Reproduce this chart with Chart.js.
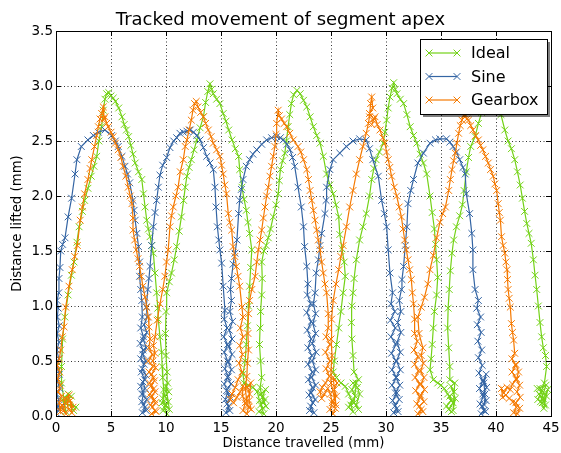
<!DOCTYPE html>
<html>
<head>
<meta charset="utf-8">
<script src="https://cdn.jsdelivr.net/npm/chart.js@4"></script>
<style>
html,body{margin:0;padding:0;background:#fff;}
#wrap{width:561px;height:453px;position:relative;}
</style>
</head>
<body>
<div id="wrap"><canvas id="c" width="561" height="453"></canvas></div>
<script>
const seriesNames = ['Ideal', 'Sine', 'Gearbox'];
const seriesColors = ['#73d216', '#3465a4', '#f57900'];
const xTicks = [0, 5, 10, 15, 20, 25, 30, 35, 40, 45];
const yTicks = [0.0, 0.5, 1.0, 1.5, 2.0, 2.5, 3.0, 3.5];

const idealPts = [
[1.6,0.05],[1.2,0.1],[1.8,0.08],[1.0,0.15],[1.4,0.18],[0.8,0.12],[1.1,0.2],[0.6,0.15],[0.9,0.04],[0.5,0.3],
[0.5,0.45],[0.6,0.7],[0.8,0.9],[1.1,1.1],[1.4,1.28],[1.64,1.4],[1.9,1.58],[2.1,1.72],[2.4,1.86],[2.6,1.96],
[2.9,2.07],[3.2,2.18],[3.45,2.27],[3.7,2.36],[3.9,2.5],[4.15,2.63],[4.3,2.78],[4.45,2.88],[4.6,2.93],[4.8,2.94],
[5.0,2.91],[5.2,2.89],[5.4,2.86],[5.7,2.8],[6.0,2.72],[6.2,2.65],[6.4,2.6],[6.6,2.54],[6.8,2.46],[7.0,2.38],
[7.2,2.3],[7.5,2.22],[7.8,2.15],[7.95,2.02],[8.1,1.9],[8.25,1.78],[8.4,1.7],[8.55,1.63],[8.7,1.55],[8.85,1.48],
[9.0,1.3],[9.15,1.12],[9.25,0.98],[9.3,0.88],[9.45,0.72],[9.6,0.58],[9.65,0.45],[9.7,0.35],[9.8,0.24],
[9.7,0.16],[10.0,0.1],[9.75,0.05],[10.1,0.02],[9.85,0.08],[10.2,0.13],[9.9,0.18],[10.25,0.22],[10.0,0.27],
[10.3,0.06],[9.65,0.12],[10.15,0.3],
[10.1,0.4],[10.0,0.55],[9.95,0.75],[10.0,0.95],[10.06,1.12],[10.3,1.22],[10.5,1.3],[10.75,1.42],[10.97,1.54],
[11.2,1.68],[11.4,1.81],[11.6,1.96],[11.75,2.08],[11.9,2.18],[12.1,2.26],[12.3,2.33],[12.55,2.42],[12.8,2.51],
[13.1,2.62],[13.4,2.72],[13.6,2.85],[13.8,2.95],[14.0,3.02],[14.15,2.97],[14.3,2.93],[14.6,2.88],[14.9,2.84],
[15.2,2.75],[15.45,2.68],[15.7,2.6],[16.0,2.51],[16.3,2.43],[16.6,2.36],[16.7,2.24],[16.9,2.08],[17.1,1.97],
[17.3,1.87],[17.45,1.76],[17.6,1.66],[17.8,1.51],[17.7,1.35],[17.6,1.18],[17.5,1.0],[17.4,0.82],[17.3,0.65],
[17.2,0.5],[17.0,0.38],[17.1,0.3],[17.5,0.28],[17.9,0.26],[18.3,0.22],
[18.5,0.14],[18.8,0.07],[18.45,0.04],[18.9,0.02],[18.6,0.1],[19.0,0.15],[18.65,0.2],[19.05,0.24],[18.75,0.17],
[19.1,0.09],[18.85,0.12],[18.55,0.26],
[18.7,0.35],[18.6,0.5],[18.5,0.65],[18.55,0.8],[18.6,0.95],[18.7,1.1],[18.75,1.25],[18.7,1.4],[18.9,1.5],
[19.1,1.55],[19.3,1.62],[19.5,1.7],[19.75,1.81],[20.0,1.92],[20.2,2.02],[20.3,2.14],[20.4,2.24],[20.6,2.32],
[20.8,2.39],[20.95,2.5],[21.1,2.63],[21.25,2.74],[21.4,2.84],[21.6,2.92],[21.9,2.96],[22.2,2.93],[22.5,2.87],
[22.8,2.81],[23.1,2.72],[23.4,2.63],[23.7,2.55],[24.0,2.48],[24.3,2.36],[24.6,2.2],[24.9,2.1],[25.2,2.02],
[25.45,1.92],[25.7,1.81],[25.8,1.65],[26.0,1.52],[26.2,1.4],[26.3,1.27],[26.1,1.12],[25.9,0.95],[25.7,0.8],
[25.5,0.65],[25.3,0.5],[25.2,0.4],[25.5,0.35],[25.9,0.3],[26.3,0.27],
[26.6,0.2],[26.9,0.14],[26.6,0.08],[27.0,0.04],[26.8,0.1],[27.2,0.18],[26.9,0.24],[27.3,0.3],[27.1,0.12],
[27.5,0.06],[27.3,0.1],[27.6,0.2],[27.4,0.26],[27.0,0.3],[27.5,0.33],
[27.1,0.4],[27.0,0.55],[26.9,0.7],[26.85,0.85],[26.9,1.0],[27.0,1.12],[27.1,1.25],[27.3,1.42],[27.6,1.6],
[27.9,1.72],[28.2,1.84],[28.5,2.0],[28.7,2.15],[28.9,2.25],[29.1,2.33],[29.4,2.4],[29.75,2.48],[29.9,2.58],
[30.06,2.69],[30.2,2.8],[30.36,2.9],[30.55,2.98],[30.7,3.03],[30.85,2.97],[31.0,2.93],[31.3,2.88],[31.6,2.84],
[31.9,2.74],[32.2,2.63],[32.5,2.55],[32.8,2.48],[33.1,2.38],[33.4,2.3],[33.7,2.2],[34.0,2.0],[34.2,1.85],
[34.4,1.7],[34.5,1.56],[34.6,1.42],[34.7,1.26],[34.6,1.1],[34.4,0.95],[34.3,0.8],[34.2,0.65],[34.1,0.52],
[34.0,0.42],[34.3,0.33],[34.7,0.3],[35.0,0.28],[35.3,0.25],
[35.6,0.2],[35.9,0.14],[35.5,0.09],[35.95,0.04],[35.7,0.06],[36.1,0.12],[35.8,0.18],[36.2,0.22],[35.9,0.27],
[36.3,0.16],[36.1,0.05],[36.25,0.3],[35.8,0.33],
[35.8,0.45],[35.7,0.62],[35.6,0.8],[35.65,0.98],[35.75,1.15],[35.85,1.32],[36.0,1.48],[36.15,1.6],[36.4,1.72],
[36.7,1.82],[36.95,1.92],[37.1,2.05],[37.3,2.22],[37.5,2.35],[37.7,2.45],[38.1,2.54],[38.4,2.66],[38.7,2.76],
[39.0,2.88],[39.4,2.98],[39.8,2.97],[40.2,2.85],[40.45,2.74],[40.8,2.6],[41.1,2.5],[41.4,2.43],[41.7,2.33],
[41.95,2.22],[42.2,2.1],[42.4,1.98],[42.6,1.86],[42.8,1.75],[43.0,1.66],[43.2,1.57],[43.4,1.42],[43.55,1.28],
[43.7,1.15],[43.85,1.0],[44.0,0.85],[44.15,0.72],[44.3,0.62],[44.5,0.55],[44.6,0.45],
[44.4,0.3],[44.1,0.22],[43.8,0.15],[44.2,0.12],[44.6,0.18],[44.0,0.25],[44.5,0.1],[43.9,0.2],[44.3,0.16],
[44.7,0.24],[44.35,0.07],[44.05,0.13],[44.55,0.28],[43.75,0.25]
];

const sinePts = [
[0.3,0.05],[0.1,0.1],[0.45,0.08],[0.0,0.03],[0.25,0.15],[0.05,0.2],[0.35,0.25],[0.1,0.32],[0.3,0.38],
[0.05,0.45],[0.25,0.52],[0.08,0.6],[0.28,0.67],[0.1,0.75],[0.3,0.82],[0.12,0.9],[0.2,0.98],[0.1,1.05],
[0.25,1.12],[0.27,1.25],[0.36,1.35],[0.43,1.5],[0.6,1.56],[0.82,1.62],[1.1,1.81],[1.42,1.98],
[1.73,2.2],[1.9,2.33],[2.3,2.45],[2.9,2.51],[3.4,2.55],[3.85,2.58],[4.45,2.6],[5.06,2.55],[5.4,2.5],[5.66,2.45],
[6.0,2.36],[6.27,2.27],[6.5,2.2],[6.7,2.12],[7.0,1.96],[7.1,1.87],[7.2,1.78],[7.35,1.66],[7.5,1.54],[7.6,1.4],
[7.6,1.27],[7.7,1.15],[7.8,1.05],[7.85,0.9],
[7.7,0.8],[7.95,0.72],[7.65,0.66],[7.9,0.6],[7.7,0.52],[8.0,0.47],[7.75,0.4],[8.05,0.33],[7.7,0.27],
[7.95,0.2],[7.8,0.13],[8.1,0.08],[7.85,0.03],[8.2,0.05],[7.95,0.1],[8.25,0.15],[7.8,0.2],[8.1,0.25],
[7.9,0.31],[8.2,0.37],[7.85,0.43],[8.15,0.5],[7.9,0.56],[8.2,0.62],[7.95,0.69],[8.25,0.76],[8.0,0.83],[8.3,0.9],
[8.2,0.99],[8.35,1.15],[8.45,1.25],[8.55,1.36],[8.7,1.55],[8.85,1.72],[9.0,1.85],[9.15,1.96],[9.3,2.08],
[9.45,2.19],[9.7,2.28],[10.06,2.35],[10.36,2.44],[10.7,2.5],[10.97,2.53],[11.27,2.57],[11.57,2.58],[11.9,2.59],
[12.2,2.6],[12.5,2.58],[12.8,2.55],[13.1,2.51],[13.4,2.44],[13.7,2.36],[14.0,2.3],[14.3,2.24],[14.45,2.08],
[14.55,1.9],[14.67,1.72],[14.8,1.6],[14.9,1.51],[15.06,1.39],[15.2,1.18],[15.36,0.96],
[15.3,0.88],[15.55,0.8],[15.25,0.72],[15.6,0.65],[15.3,0.58],[15.6,0.5],[15.35,0.43],[15.65,0.36],[15.3,0.29],
[15.6,0.22],[15.4,0.15],[15.7,0.09],[15.45,0.03],[15.8,0.05],[15.55,0.11],[15.85,0.17],[15.5,0.23],[15.9,0.29],
[15.6,0.35],[15.95,0.42],[15.65,0.49],[16.0,0.56],[15.7,0.63],[16.0,0.7],[15.75,0.78],[16.05,0.86],[15.8,0.95],
[15.95,1.05],[15.85,1.15],[15.95,1.25],
[16.1,1.38],[16.27,1.48],[16.45,1.6],[16.6,1.84],[16.7,1.96],[16.85,2.06],[17.0,2.15],
[17.3,2.27],[17.6,2.33],[17.9,2.38],[18.25,2.42],[18.7,2.47],[19.15,2.51],[19.6,2.53],[20.06,2.54],[20.4,2.53],
[20.66,2.51],[21.0,2.47],[21.27,2.42],[21.5,2.35],[21.7,2.27],[22.0,2.08],[22.3,1.9],[22.5,1.72],[22.6,1.54],
[22.8,1.36],[22.9,1.2],
[22.85,1.1],[23.15,1.02],[22.8,0.94],[23.2,0.86],[22.85,0.78],[23.2,0.7],[22.9,0.62],[23.25,0.55],[22.9,0.47],
[23.3,0.4],[22.95,0.33],[23.3,0.26],[23.0,0.19],[23.35,0.12],[23.05,0.05],[23.45,0.03],[23.15,0.09],[23.55,0.15],
[23.2,0.21],[23.6,0.28],[23.25,0.35],[23.6,0.42],[23.3,0.5],[23.65,0.58],[23.3,0.66],[23.6,0.75],[23.35,0.84],
[23.6,0.93],[23.4,1.02],[23.55,1.12],
[23.65,1.3],[23.85,1.42],[24.0,1.55],[24.15,1.66],[24.45,1.84],[24.55,1.96],
[24.6,2.08],[24.9,2.24],[25.2,2.33],[25.8,2.39],[26.4,2.45],[27.0,2.5],[27.6,2.52],[28.2,2.51],[28.5,2.43],
[28.8,2.33],[29.3,2.18],[29.6,1.96],[29.85,1.84],[30.06,1.72],[30.2,1.51],[30.36,1.3],[30.6,1.12],
[30.45,1.02],[30.8,0.95],[30.4,0.87],[30.85,0.8],[30.45,0.72],[30.9,0.65],[30.5,0.57],[30.9,0.5],[30.55,0.42],
[30.95,0.35],[30.55,0.28],[31.0,0.21],[30.6,0.14],[31.0,0.07],[30.7,0.03],[31.1,0.04],[30.8,0.09],[31.2,0.15],
[30.85,0.21],[31.25,0.28],[30.9,0.35],[31.3,0.42],[30.95,0.5],[31.3,0.58],[31.0,0.67],[31.35,0.76],[31.05,0.85],
[31.35,0.95],[31.2,1.05],[31.4,1.15],
[31.45,1.24],[31.6,1.36],[31.75,1.55],[31.9,1.72],[32.0,1.93],[32.25,2.05],
[32.5,2.15],[32.9,2.3],[33.4,2.39],[34.0,2.48],[34.5,2.51],[34.9,2.52],[35.5,2.52],[35.8,2.49],[36.1,2.45],
[36.4,2.4],[36.7,2.33],[37.0,2.26],[37.2,2.2],[37.3,2.02],[37.6,1.84],[37.8,1.66],[37.9,1.51],[37.9,1.33],
[38.1,1.15],[38.4,1.05],
[38.25,0.98],[38.6,0.9],[38.3,0.83],[38.65,0.76],[38.35,0.68],[38.7,0.6],[38.4,0.53],[38.75,0.46],[38.45,0.39],
[38.8,0.32],[38.5,0.25],[38.85,0.18],[38.55,0.11],[38.9,0.05],[38.65,0.02],[39.05,0.04],[38.75,0.09],[39.1,0.14],
[38.8,0.2],[39.15,0.26],[38.85,0.32],[39.1,0.38],[38.9,0.3],[39.0,0.2],[38.95,0.1]
];

const gearboxPts = [
[1.55,0.08],[1.3,0.14],[1.45,0.03],[1.15,0.06],[1.0,0.12],[1.2,0.19],[0.85,0.16],[0.7,0.05],[0.9,0.02],
[0.55,0.1],[0.4,0.04],[0.3,0.12],[0.5,0.18],[0.2,0.22],[0.4,0.28],[0.15,0.34],[0.35,0.4],[0.12,0.46],[0.3,0.52],
[0.43,0.6],[0.57,0.72],[0.73,0.81],[0.88,0.99],[1.18,1.18],[1.48,1.33],[1.7,1.45],
[1.94,1.55],[2.2,1.78],[2.4,1.9],[2.6,2.02],[2.9,2.15],[3.1,2.25],[3.25,2.33],[3.5,2.45],[3.7,2.55],[3.85,2.63],
[4.0,2.7],[4.15,2.75],[4.3,2.81],[4.35,2.7],[4.45,2.72],[4.6,2.66],[4.75,2.63],[5.0,2.58],[5.2,2.54],[5.4,2.48],
[5.66,2.42],[5.9,2.35],[6.1,2.27],[6.35,2.18],[6.57,2.08],[6.75,2.0],[6.9,1.93],[7.0,1.8],[7.0,1.69],[7.15,1.6],
[7.3,1.51],[7.45,1.43],[7.6,1.36],[7.75,1.27],[7.9,1.18],[8.1,1.08],[8.25,0.99],[8.4,0.9],[8.45,0.81],[8.55,0.7],
[8.45,0.62],[8.75,0.56],[8.4,0.5],[8.8,0.45],[8.45,0.4],[8.85,0.35],[8.5,0.3],[8.9,0.25],[8.55,0.2],[8.95,0.15],
[8.6,0.1],[9.0,0.05],[8.7,0.02],[9.1,0.04],[8.75,0.08],[9.05,0.12],[8.65,0.17],[9.0,0.22],[8.6,0.27],[8.95,0.32],
[8.7,0.38],[9.05,0.44],[8.8,0.5],[9.0,0.57],[8.85,0.64],
[9.0,0.72],[9.2,0.87],[9.45,1.02],[9.7,1.15],[9.9,1.27],[10.05,1.4],[10.2,1.51],[10.36,1.72],[10.5,1.82],
[10.66,1.9],[10.9,2.0],[11.1,2.08],[11.3,2.22],[11.57,2.33],[11.75,2.45],[11.9,2.51],[12.1,2.6],[12.3,2.69],
[12.45,2.78],[12.6,2.84],[12.75,2.86],[12.9,2.81],[13.15,2.76],[13.4,2.72],[13.6,2.66],[13.85,2.6],[14.1,2.54],
[14.3,2.48],[14.6,2.42],[14.9,2.36],[15.05,2.28],[15.2,2.2],[15.35,2.1],[15.5,2.02],[15.66,1.84],[15.8,1.76],
[15.97,1.69],[16.1,1.54],[16.25,1.45],[16.4,1.36],[16.55,1.27],[16.7,1.18],[16.9,0.99],[17.0,0.9],
[16.75,0.8],[17.0,0.72],[16.7,0.64],[16.95,0.56],[16.65,0.48],[16.9,0.4],[16.55,0.33],[16.3,0.26],[16.0,0.2],
[15.85,0.15],[16.15,0.12],[16.45,0.17],[16.75,0.22],[17.0,0.27],[16.95,0.18],[17.2,0.12],[17.0,0.05],[17.35,0.02],
[17.5,0.08],[17.25,0.15],[17.6,0.2],[17.4,0.26],[17.7,0.3],[17.55,0.14],[17.75,0.06],[17.4,0.1],[17.2,0.25],
[17.35,0.36],
[17.4,0.48],[17.5,0.6],[17.45,0.75],[17.5,0.93],[17.6,1.05],[17.8,1.15],[18.1,1.27],[18.25,1.4],
[18.4,1.51],[18.55,1.6],[18.7,1.69],[18.85,1.8],[19.0,1.9],[19.15,2.0],[19.3,2.08],[19.45,2.18],[19.6,2.27],
[19.75,2.36],[19.9,2.45],[20.0,2.56],[20.06,2.66],[20.2,2.78],[20.3,2.73],[20.5,2.7],[20.75,2.66],[20.97,2.63],
[21.25,2.57],[21.57,2.51],[22.0,2.45],[22.25,2.4],[22.5,2.33],[22.8,2.24],[22.95,2.15],[23.1,2.05],[23.25,1.96],
[23.4,1.87],[23.55,1.78],[23.7,1.69],[23.85,1.6],[24.0,1.51],[24.15,1.4],[24.3,1.3],[24.45,1.2],[24.6,1.12],
[24.75,0.93],[24.75,0.8],
[24.55,0.72],[24.9,0.65],[24.5,0.58],[24.9,0.5],[24.55,0.43],[24.85,0.36],[24.5,0.3],[24.2,0.26],[24.0,0.22],
[24.15,0.16],[24.4,0.2],[24.7,0.25],[24.95,0.2],[25.1,0.12],[24.9,0.06],[25.2,0.02],[25.4,0.07],[25.15,0.14],
[25.5,0.18],[25.3,0.24],[25.55,0.3],[25.2,0.35],[25.45,0.1],[25.0,0.3],[25.0,0.42],
[25.1,0.55],[25.0,0.7],[25.05,0.88],[25.2,1.05],[25.45,1.2],[25.7,1.33],[25.9,1.45],[26.1,1.55],[26.4,1.72],
[26.7,1.9],[27.0,2.05],[27.3,2.2],[27.6,2.33],[27.9,2.45],[28.2,2.57],[28.4,2.66],[28.5,2.72],[28.6,2.84],
[28.7,2.9],[28.8,2.8],[28.5,2.75],[28.9,2.7],[28.7,2.65],[29.0,2.72],[29.2,2.65],[29.45,2.6],[29.7,2.53],
[29.9,2.48],[30.05,2.4],[30.2,2.33],[30.35,2.26],[30.5,2.18],[30.75,2.08],[30.97,2.0],[31.2,1.9],[31.4,1.81],
[31.55,1.7],[31.7,1.6],[31.85,1.51],[32.0,1.42],[32.15,1.33],[32.3,1.24],[32.4,1.12],[32.5,1.02],[32.6,0.88],
[32.6,0.75],
[32.85,0.68],[32.55,0.6],[32.9,0.54],[32.6,0.47],[32.95,0.41],[32.65,0.35],[33.05,0.29],[32.7,0.23],[33.1,0.17],
[32.8,0.11],[33.2,0.06],[32.9,0.02],[33.35,0.04],[33.05,0.09],[33.45,0.13],[33.15,0.19],[33.5,0.24],[33.2,0.29],
[33.45,0.35],[33.15,0.41],[33.4,0.48],[33.2,0.55],[33.35,0.62],
[33.0,0.75],[32.9,0.9],[33.2,0.99],[33.5,1.08],[33.8,1.2],[34.0,1.33],[34.3,1.46],[34.6,1.62],[34.9,1.76],
[35.15,1.84],[35.4,1.9],[35.7,2.05],[35.85,2.15],[36.0,2.24],[36.15,2.32],[36.3,2.39],[36.45,2.48],[36.6,2.57],
[36.75,2.64],[36.9,2.69],[37.05,2.73],[37.2,2.74],[37.35,2.7],[37.5,2.69],[37.7,2.64],[37.9,2.6],[38.15,2.55],
[38.4,2.51],[38.6,2.46],[38.8,2.42],[39.05,2.36],[39.3,2.3],[39.5,2.24],[39.75,2.18],[39.9,2.11],[40.06,2.05],
[40.2,1.93],[40.3,1.85],[40.4,1.78],[40.5,1.63],[40.65,1.55],[40.8,1.48],[40.9,1.4],[41.0,1.33],[41.05,1.24],
[41.1,1.15],[41.2,1.07],[41.3,0.99],[41.4,0.84],[41.5,0.76],[41.6,0.69],[41.7,0.57],
[41.45,0.52],[41.8,0.46],[41.45,0.4],[41.85,0.34],[41.5,0.29],[41.3,0.24],[41.0,0.26],[40.7,0.21],[40.5,0.25],
[40.6,0.17],[40.9,0.19],[41.2,0.16],[41.55,0.13],[41.85,0.08],[41.6,0.03],[41.95,0.02],[42.15,0.07],[41.8,0.12],
[42.2,0.17],[41.9,0.22],[42.15,0.28],[41.85,0.33],[42.05,0.4],[41.8,0.47]
];

const allPts = [idealPts, sinePts, gearboxPts];
const FONT = 'DejaVu Sans';

const datasets = seriesNames.map((name, i) => ({
  label: name,
  data: allPts[i].map(p => ({x: p[0], y: p[1]})),
  showLine: true,
  borderColor: seriesColors[i],
  backgroundColor: seriesColors[i],
  borderWidth: 1.2,
  pointStyle: 'crossRot',
  pointRadius: 4.8,
  pointBorderWidth: 1,
  pointBorderColor: seriesColors[i],
  tension: 0,
  order: 3 - i
}));

const framePlugin = {
  id: 'frame',
  afterDatasetsDraw(chart) {
    const ctx = chart.ctx;
    const a = chart.chartArea;
    const xs = chart.scales.x, ys = chart.scales.y;
    ctx.save();
    ctx.strokeStyle = '#000';
    ctx.lineWidth = 1;
    ctx.beginPath();
    xTicks.forEach(v => {
      const px = Math.round(xs.getPixelForValue(v)) + 0.5;
      ctx.moveTo(px, a.bottom); ctx.lineTo(px, a.bottom - 5);
      ctx.moveTo(px, a.top); ctx.lineTo(px, a.top + 5);
    });
    yTicks.forEach(v => {
      const py = Math.round(ys.getPixelForValue(v)) + 0.5;
      ctx.moveTo(a.left, py); ctx.lineTo(a.left + 5, py);
      ctx.moveTo(a.right, py); ctx.lineTo(a.right - 5, py);
    });
    ctx.stroke();
    ctx.strokeRect(Math.round(a.left) + 0.5, Math.round(a.top) + 0.5,
                   Math.round(a.right - a.left), Math.round(a.bottom - a.top));
    ctx.restore();
  }
};

const legendPlugin = {
  id: 'boxLegend',
  afterDraw(chart) {
    const ctx = chart.ctx;
    const bx = 420, by = 39, bw = 127, bh = 75;
    ctx.save();
    ctx.fillStyle = 'rgba(0,0,0,0.5)';
    ctx.fillRect(bx + 3, by + 3, bw, bh);
    ctx.fillStyle = '#fff';
    ctx.fillRect(bx, by, bw, bh);
    ctx.strokeStyle = '#000';
    ctx.lineWidth = 1;
    ctx.strokeRect(bx + 0.5, by + 0.5, bw, bh);
    const rows = [53, 76.5, 100];
    chart.data.datasets.forEach((ds, i) => {
      const y = rows[i];
      const x1 = 429, x2 = 457;
      ctx.strokeStyle = ds.borderColor;
      ctx.lineWidth = 1.2;
      ctx.beginPath(); ctx.moveTo(x1, y); ctx.lineTo(x2, y); ctx.stroke();
      ctx.lineWidth = 1;
      [x1, x2].forEach(x => {
        const r = 4.8 * Math.SQRT1_2;
        ctx.beginPath();
        ctx.moveTo(x - r, y - r); ctx.lineTo(x + r, y + r);
        ctx.moveTo(x - r, y + r); ctx.lineTo(x + r, y - r);
        ctx.stroke();
      });
      ctx.fillStyle = '#000';
      ctx.font = '16px "' + FONT + '"';
      ctx.textBaseline = 'middle';
      ctx.textAlign = 'left';
      ctx.fillText(ds.label, 471, y + 1);
    });
    ctx.restore();
  }
};

new Chart(document.getElementById('c'), {
  type: 'scatter',
  data: { datasets },
  options: {
    responsive: false,
    animation: false,
    layout: { padding: 0 },
    plugins: {
      legend: { display: false },
      tooltip: { enabled: false },
      title: {
        display: true,
        text: 'Tracked movement of segment apex',
        color: '#000',
        font: { family: FONT, size: 18, weight: 'normal', lineHeight: 1.2 },
        padding: { top: 9.4, bottom: 0 }
      }
    },
    scales: {
      x: {
        type: 'linear', min: 0, max: 45,
        afterBuildTicks(s) { s.ticks = xTicks.map(v => ({ value: v })); },
        afterFit(s) { s.height = 37; s.paddingLeft = 0; s.paddingRight = 10; },
        ticks: { color: '#000', font: { family: FONT, size: 13.5 }, padding: 4, maxRotation: 0,
                 callback: v => String(v) },
        grid: { color: '#000', lineWidth: 0.8, drawTicks: false },
        border: { display: true, color: '#000', width: 1, dash: [1, 2.5] },
        title: { display: true, text: 'Distance travelled (mm)', color: '#000',
                 font: { family: FONT, size: 13.3 }, padding: { top: 0, bottom: 1 } }
      },
      y: {
        type: 'linear', min: 0, max: 3.5,
        afterBuildTicks(s) { s.ticks = yTicks.map(v => ({ value: v })); },
        afterFit(s) { s.width = 56; s.paddingTop = 0; s.paddingBottom = 0; },
        ticks: { color: '#000', font: { family: FONT, size: 13.5 }, padding: 3,
                 callback: v => Number(v).toFixed(1) },
        grid: { color: '#000', lineWidth: 0.8, drawTicks: false },
        border: { display: true, color: '#000', width: 1, dash: [1, 2.5] },
        title: { display: true, text: 'Distance lifted (mm)', color: '#000',
                 font: { family: FONT, size: 13.3 }, padding: { top: 10, bottom: 0 } }
      }
    }
  },
  plugins: [framePlugin, legendPlugin]
});
</script>
</body>
</html>
